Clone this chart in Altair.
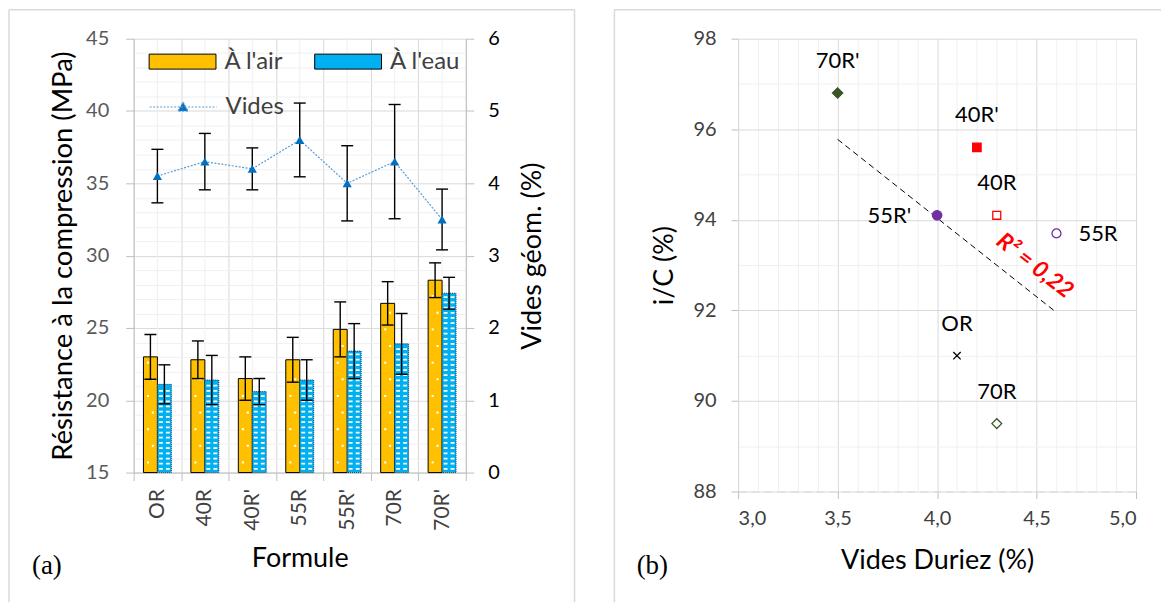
import altair as alt
import pandas as pd

# ---------------- data (a) ----------------
formules = ["OR", "40R", "40R'", "55R", "55R'", "70R", "70R'"]
series = ["À l'air", "À l'eau"]
resist_air = [23.0, 22.8, 21.5, 22.8, 24.9, 26.7, 28.3]
resist_air_err = [1.55, 1.3, 1.5, 1.55, 1.9, 1.5, 1.2]
resist_eau = [21.1, 21.4, 20.6, 21.4, 23.4, 23.9, 27.4]
resist_eau_err = [1.35, 1.7, 0.9, 1.4, 1.9, 2.1, 1.1]
vides_geom = [4.1, 4.3, 4.2, 4.6, 4.0, 4.3, 3.5]
vides_geom_err = [0.37, 0.39, 0.29, 0.51, 0.52, 0.79, 0.42]

# ---------------- data (b) ----------------
formules_b = ["OR", "40R", "40R'", "55R", "55R'", "70R", "70R'"]
vides_duriez = [4.1, 4.3, 4.2, 4.6, 4.0, 4.3, 3.5]
ic_values = [91.0, 94.1, 95.6, 93.7, 94.1, 89.5, 96.8]
labels_above = ["OR", "40R", "40R'", "70R", "70R'"]
labels_left = ["55R'"]
labels_right = ["55R"]

FONT = "Lato"

df_bars = pd.DataFrame({
    "formule": formules * 2,
    "serie": [series[0]] * len(formules) + [series[1]] * len(formules),
    "valeur": resist_air + resist_eau,
    "err": resist_air_err + resist_eau_err,
})
df_v = pd.DataFrame({"formule": formules, "vides": vides_geom, "err": vides_geom_err})
df_b = pd.DataFrame({"formule": formules_b, "vides": vides_duriez, "ic": ic_values})
one = alt.Data(values=[{"k": 1}])

W_A, H_A = 333, 435
W_B, H_B = 399, 454

# ---------------- panel (a) ----------------
x_axis_a = alt.Axis(
    title="Formule", labelAngle=270, labelAlign="right", labelBaseline="middle",
    tickBand="extent", grid=True, gridColor="#D9D9D9", tickSize=8, tickColor="#BFBFBF",
    labelPadding=8, labelFontSize=21, labelColor="#404040", titleFontSize=27,
    titlePadding=15, domainColor="#BFBFBF", labelFont=FONT, titleFont=FONT,
)
X_a = alt.X("formule:N", sort=formules,
            scale=alt.Scale(domain=formules, paddingInner=0, paddingOuter=0),
            axis=x_axis_a)
XO = alt.XOffset("serie:N", scale=alt.Scale(domain=series, paddingInner=0, paddingOuter=0.7))

y_scale_a = alt.Scale(domain=[15, 45], nice=False, zero=False)
y_axis_a = alt.Axis(
    values=list(range(15, 46)), labelOverlap=False,
    labelExpr="datum.value % 5 === 0 ? datum.label : ''",
    gridColor={"condition": {"test": "datum.value % 5 === 0", "value": "#D9D9D9"}, "value": "#F0F0F0"},
    tickOpacity={"condition": {"test": "datum.value % 5 === 0", "value": 1}, "value": 0},
    tickSize=8, tickColor="#BFBFBF", labelPadding=17, labelFontSize=20, labelColor="#595959",
    titleFontSize=27.5, titlePadding=8, domainColor="#BFBFBF", labelFont=FONT, titleFont=FONT,
)
TITLE_A = "Résistance à la compression (MPa)"


def ya(field):
    return alt.Y(field, type="quantitative", scale=y_scale_a, axis=y_axis_a, title=TITLE_A)


y_scale_b = alt.Scale(domain=[0, 6], nice=False, zero=True)
y_axis_b = alt.Axis(
    orient="right", values=[0, 1, 2, 3, 4, 5, 6], grid=False, tickSize=8, tickColor="#BFBFBF",
    labelPadding=14, labelFontSize=20, labelColor="#000000", titleAngle=270,
    titleFontSize=27, titlePadding=47, domainColor="#BFBFBF", labelFont=FONT, titleFont=FONT,
)
TITLE_B = "Vides géom. (%)"


def yb(field):
    return alt.Y(field, type="quantitative", scale=y_scale_b, axis=y_axis_b, title=TITLE_B)


frame_col = "#D9D9D9"
frame_a = [
    alt.Chart(one).mark_rule(color=frame_col, strokeWidth=1.5).encode(
        x=alt.value(-125), y=alt.value(-29), y2=alt.value(565)),
    alt.Chart(one).mark_rule(color=frame_col, strokeWidth=1.5).encode(
        x=alt.value(442), y=alt.value(-29), y2=alt.value(565)),
    alt.Chart(one).mark_rule(color=frame_col, strokeWidth=1.5).encode(
        x=alt.value(-125), x2=alt.value(442), y=alt.value(-29)),
    alt.Chart(one).mark_text(font="Liberation Serif", fontSize=27, color="#000000").encode(
        x=alt.value(-87), y=alt.value(529), text=alt.value("(a)")),
]

minor_v = alt.Chart(df_v).mark_rule(color="#F0F0F0", strokeWidth=1).encode(
    x=X_a, y=alt.value(0), y2=alt.value(H_A))

rect_path = "M-1,-0.224L1,-0.224L1,0.224L-1,0.224Z"
fill_legend = alt.Legend(
    title=None, orient="none", legendX=15, legendY=-11, direction="horizontal",
    symbolType=rect_path, symbolSize=4489, symbolStrokeColor="#000000", symbolStrokeWidth=1,
    symbolOpacity=1, labelFontSize=24, labelColor="#404040", labelOffset=8, columnPadding=28,
    labelFont=FONT,
)
fill_enc = alt.Fill("serie:N", scale=alt.Scale(domain=series, range=["#FFC000", "#00B0F0"]),
                    legend=fill_legend)

bars_air = alt.Chart(df_bars).transform_filter(alt.datum.serie == series[0]).mark_bar(
    stroke="#000000", strokeWidth=1, opacity=1).encode(
    x=X_a, xOffset=XO, y=ya("valeur"), y2=alt.datum(15), fill=fill_enc)
bars_eau = alt.Chart(df_bars).transform_filter(alt.datum.serie == series[1]).mark_bar(
    stroke="#1F3864", strokeWidth=1, strokeDash=[1, 1], opacity=1).encode(
    x=X_a, xOffset=XO, y=ya("valeur"), y2=alt.datum(15), fill=fill_enc)

# white fill patterns inside the bars (dots on "À l'air", dashes on "À l'eau")
dot_left = "M-1.0,-0.3L-0.4,-0.3L-0.4,0.3L-1.0,0.3Z"
dot_right = "M0.4,-0.3L1.0,-0.3L1.0,0.3L0.4,0.3Z"
dash_pair = "M-1.55,-0.25L-0.45,-0.25L-0.45,0.25L-1.55,0.25ZM0.45,-0.25L1.55,-0.25L1.55,0.25L0.45,0.25Z"
air_src = alt.Chart(df_bars).transform_filter(alt.datum.serie == series[0])
eau_src = alt.Chart(df_bars).transform_filter(alt.datum.serie == series[1])
air_dots_l = air_src.transform_calculate(seq="sequence(15.7, datum.valeur - 0.3, 2.3)").transform_flatten(
    ["seq"]).mark_point(shape=dot_left, size=49, filled=True, color="#FFFFFF", opacity=1, strokeWidth=0).encode(
    x=X_a, xOffset=XO, y=ya("seq"))
air_dots_r = air_src.transform_calculate(seq="sequence(16.85, datum.valeur - 0.3, 2.3)").transform_flatten(
    ["seq"]).mark_point(shape=dot_right, size=49, filled=True, color="#FFFFFF", opacity=1, strokeWidth=0).encode(
    x=X_a, xOffset=XO, y=ya("seq"))
eau_dashes = eau_src.transform_calculate(seq="sequence(15.25, datum.valeur - 0.15, 0.36)").transform_flatten(
    ["seq"]).mark_point(shape=dash_pair, size=49, filled=True, color="#FFFFFF", opacity=1, strokeWidth=0).encode(
    x=X_a, xOffset=XO, y=ya("seq"))

bar_err_base = alt.Chart(df_bars).transform_calculate(
    lo="datum.valeur - datum.err", hi="datum.valeur + datum.err")
bar_err_rule = bar_err_base.mark_rule(color="#000000", strokeWidth=1.4).encode(
    x=X_a, xOffset=XO, y=ya("lo"), y2="hi:Q")
bar_cap_lo = bar_err_base.mark_tick(color="#000000", thickness=1.4, size=12, opacity=1).encode(
    x=X_a, xOffset=XO, y=ya("lo"))
bar_cap_hi = bar_err_base.mark_tick(color="#000000", thickness=1.4, size=12, opacity=1).encode(
    x=X_a, xOffset=XO, y=ya("hi"))

group_a = alt.layer(*frame_a, minor_v, bars_air, bars_eau, air_dots_l, air_dots_r, eau_dashes,
                    bar_err_rule, bar_cap_lo, bar_cap_hi)

line_path = "M-1,0L1,0M-0.15,0.12L0,-0.15L0.15,0.12Z"
stroke_legend = alt.Legend(
    title=None, orient="none", legendX=15, legendY=34, direction="horizontal",
    symbolType=line_path, symbolSize=4489, symbolStrokeWidth=1.2, symbolDash=[2, 1.5],
    symbolFillColor="#0070C0", labelFontSize=24, labelColor="#404040", labelOffset=8,
    labelFont=FONT,
)
v_base = alt.Chart(df_v).transform_calculate(
    leg="'Vides'", lo="datum.vides - datum.err", hi="datum.vides + datum.err")
v_line = v_base.mark_line(strokeWidth=1.2, strokeDash=[2, 1.5]).encode(
    x=X_a, y=yb("vides"),
    stroke=alt.Stroke("leg:N", scale=alt.Scale(domain=["Vides"], range=["#5B9BD5"]),
                      legend=stroke_legend))
v_rule = v_base.mark_rule(color="#000000", strokeWidth=1.4).encode(
    x=X_a, y=yb("lo"), y2="hi:Q")
v_cap_lo = v_base.mark_tick(color="#000000", thickness=1.4, size=12, opacity=1).encode(
    x=X_a, y=yb("lo"))
v_cap_hi = v_base.mark_tick(color="#000000", thickness=1.4, size=12, opacity=1).encode(
    x=X_a, y=yb("hi"))
v_pts = v_base.mark_point(shape="triangle-up", filled=True, size=85, color="#0070C0", opacity=1).encode(
    x=X_a, y=yb("vides"))

group_b = alt.layer(v_line, v_rule, v_cap_lo, v_cap_hi, v_pts)

panel_a = alt.layer(group_a, group_b).resolve_scale(y="independent").properties(
    width=W_A, height=H_A)

# ---------------- panel (b) ----------------
x_vals = [round(3 + 0.1 * i, 1) for i in range(21)]
major_x = "abs(datum.value * 2 - round(datum.value * 2)) < 0.001"
x_axis_b = alt.Axis(
    values=x_vals, labelOverlap=False,
    labelExpr=f"{major_x} ? replace(format(datum.value, '.1f'), '.', ',') : ''",
    gridColor={"condition": {"test": major_x, "value": "#D9D9D9"}, "value": "#F0F0F0"},
    tickOpacity={"condition": {"test": major_x, "value": 1}, "value": 0},
    tickSize=7, tickColor="#BFBFBF", labelPadding=10, labelFontSize=20, labelColor="#404040",
    titleFontSize=27, titlePadding=19, domainColor="#D9D9D9", domainDash=[8, 5],
    labelFont=FONT, titleFont=FONT,
)
y_axis_c = alt.Axis(
    values=list(range(88, 99)), labelOverlap=False,
    labelExpr="datum.value % 2 === 0 ? datum.label : ''",
    gridColor={"condition": {"test": "datum.value % 2 === 0", "value": "#D9D9D9"}, "value": "#F0F0F0"},
    tickOpacity={"condition": {"test": "datum.value % 2 === 0", "value": 1}, "value": 0},
    tickSize=7, tickColor="#BFBFBF", labelPadding=15, labelFontSize=20, labelColor="#404040",
    titleFontSize=27, titlePadding=15, domainColor="#D9D9D9", labelFont=FONT, titleFont=FONT,
)
TITLE_X = "Vides Duriez (%)"
TITLE_Y = "i/C (%)"


def xb(field):
    return alt.X(field, type="quantitative", scale=alt.Scale(domain=[3, 5], nice=False, zero=False),
                 axis=x_axis_b, title=TITLE_X)


def yc(field):
    return alt.Y(field, type="quantitative", scale=alt.Scale(domain=[88, 98], nice=False, zero=False),
                 axis=y_axis_c, title=TITLE_Y)


frame_b = [
    alt.Chart(one).mark_rule(color=frame_col, strokeWidth=1.5).encode(
        x=alt.value(-124), y=alt.value(-29), y2=alt.value(565)),
    alt.Chart(one).mark_rule(color=frame_col, strokeWidth=1.5).encode(
        x=alt.value(-124), x2=alt.value(424), y=alt.value(-29)),
    alt.Chart(one).mark_text(font="Liberation Serif", fontSize=27, color="#000000").encode(
        x=alt.value(-86), y=alt.value(529), text=alt.value("(b)")),
]

x_mark = "M-1,-1L1,1M-1,1L1,-1"
shape_enc = alt.Shape("formule:N", scale=alt.Scale(
    domain=formules_b,
    range=[x_mark, "square", "square", "circle", "circle", "diamond", "diamond"]), legend=None)
stroke_enc = alt.Stroke("formule:N", scale=alt.Scale(
    domain=formules_b,
    range=["#000000", "#FF0000", "#FF0000", "#7030A0", "#7030A0", "#375623", "#375623"]), legend=None)
fill_enc_b = alt.Fill("formule:N", scale=alt.Scale(
    domain=formules_b,
    range=["transparent", "#FFFFFF", "#FF0000", "#FFFFFF", "#7030A0", "#FFFFFF", "#375623"]), legend=None)
size_enc = alt.Size("formule:N", scale=alt.Scale(
    domain=formules_b, range=[55, 105, 128, 80, 128, 90, 100]), legend=None)

base_b = alt.Chart(df_b)
reg_line = base_b.transform_regression("vides", "ic").mark_line(
    color="#000000", strokeWidth=1, strokeDash=[6, 4]).encode(x=xb("vides"), y=yc("ic"))
pts_b = base_b.mark_point(strokeWidth=1.3, opacity=1).encode(
    x=xb("vides"), y=yc("ic"), shape=shape_enc, stroke=stroke_enc, fill=fill_enc_b, size=size_enc)
txt_above = base_b.transform_filter(alt.FieldOneOfPredicate(field="formule", oneOf=labels_above)).mark_text(
    fontSize=22, dy=-32, color="#000000", font=FONT).encode(
    x=xb("vides"), y=yc("ic"), text="formule:N")
txt_left = base_b.transform_filter(alt.FieldOneOfPredicate(field="formule", oneOf=labels_left)).mark_text(
    fontSize=22, dx=-26, dy=1, align="right", color="#000000", font=FONT).encode(
    x=xb("vides"), y=yc("ic"), text="formule:N")
txt_right = base_b.transform_filter(alt.FieldOneOfPredicate(field="formule", oneOf=labels_right)).mark_text(
    fontSize=22, dx=22, dy=1, align="left", color="#000000", font=FONT).encode(
    x=xb("vides"), y=yc("ic"), text="formule:N")
r2_txt = base_b.transform_regression("vides", "ic", params=True).transform_calculate(
    vides="4.42",
    ic="datum.coef[0] + datum.coef[1] * 4.42",
    txt="'R² = ' + replace(format(datum.rSquared, '.2f'), '.', ',')",
).mark_text(angle=38, dy=-23, fontSize=23, fontWeight="bold", fontStyle="italic",
            color="#FF0000", font=FONT).encode(x=xb("vides"), y=yc("ic"), text="txt:N")

panel_b = alt.layer(*frame_b, reg_line, pts_b, txt_above, txt_left, txt_right, r2_txt).properties(
    width=W_B, height=H_B)

chart = alt.hconcat(panel_a, panel_b, spacing=38).resolve_scale(
    fill="independent", stroke="independent", shape="independent", size="independent"
).resolve_legend(
    fill="independent", stroke="independent", shape="independent", size="independent"
).properties(padding=0).configure(
    font=FONT).configure_view(stroke=None).configure_axis(titleFontWeight="normal", titleColor="#000000")

chart.save("out.html", embed_options={"renderer": "svg", "actions": False})
